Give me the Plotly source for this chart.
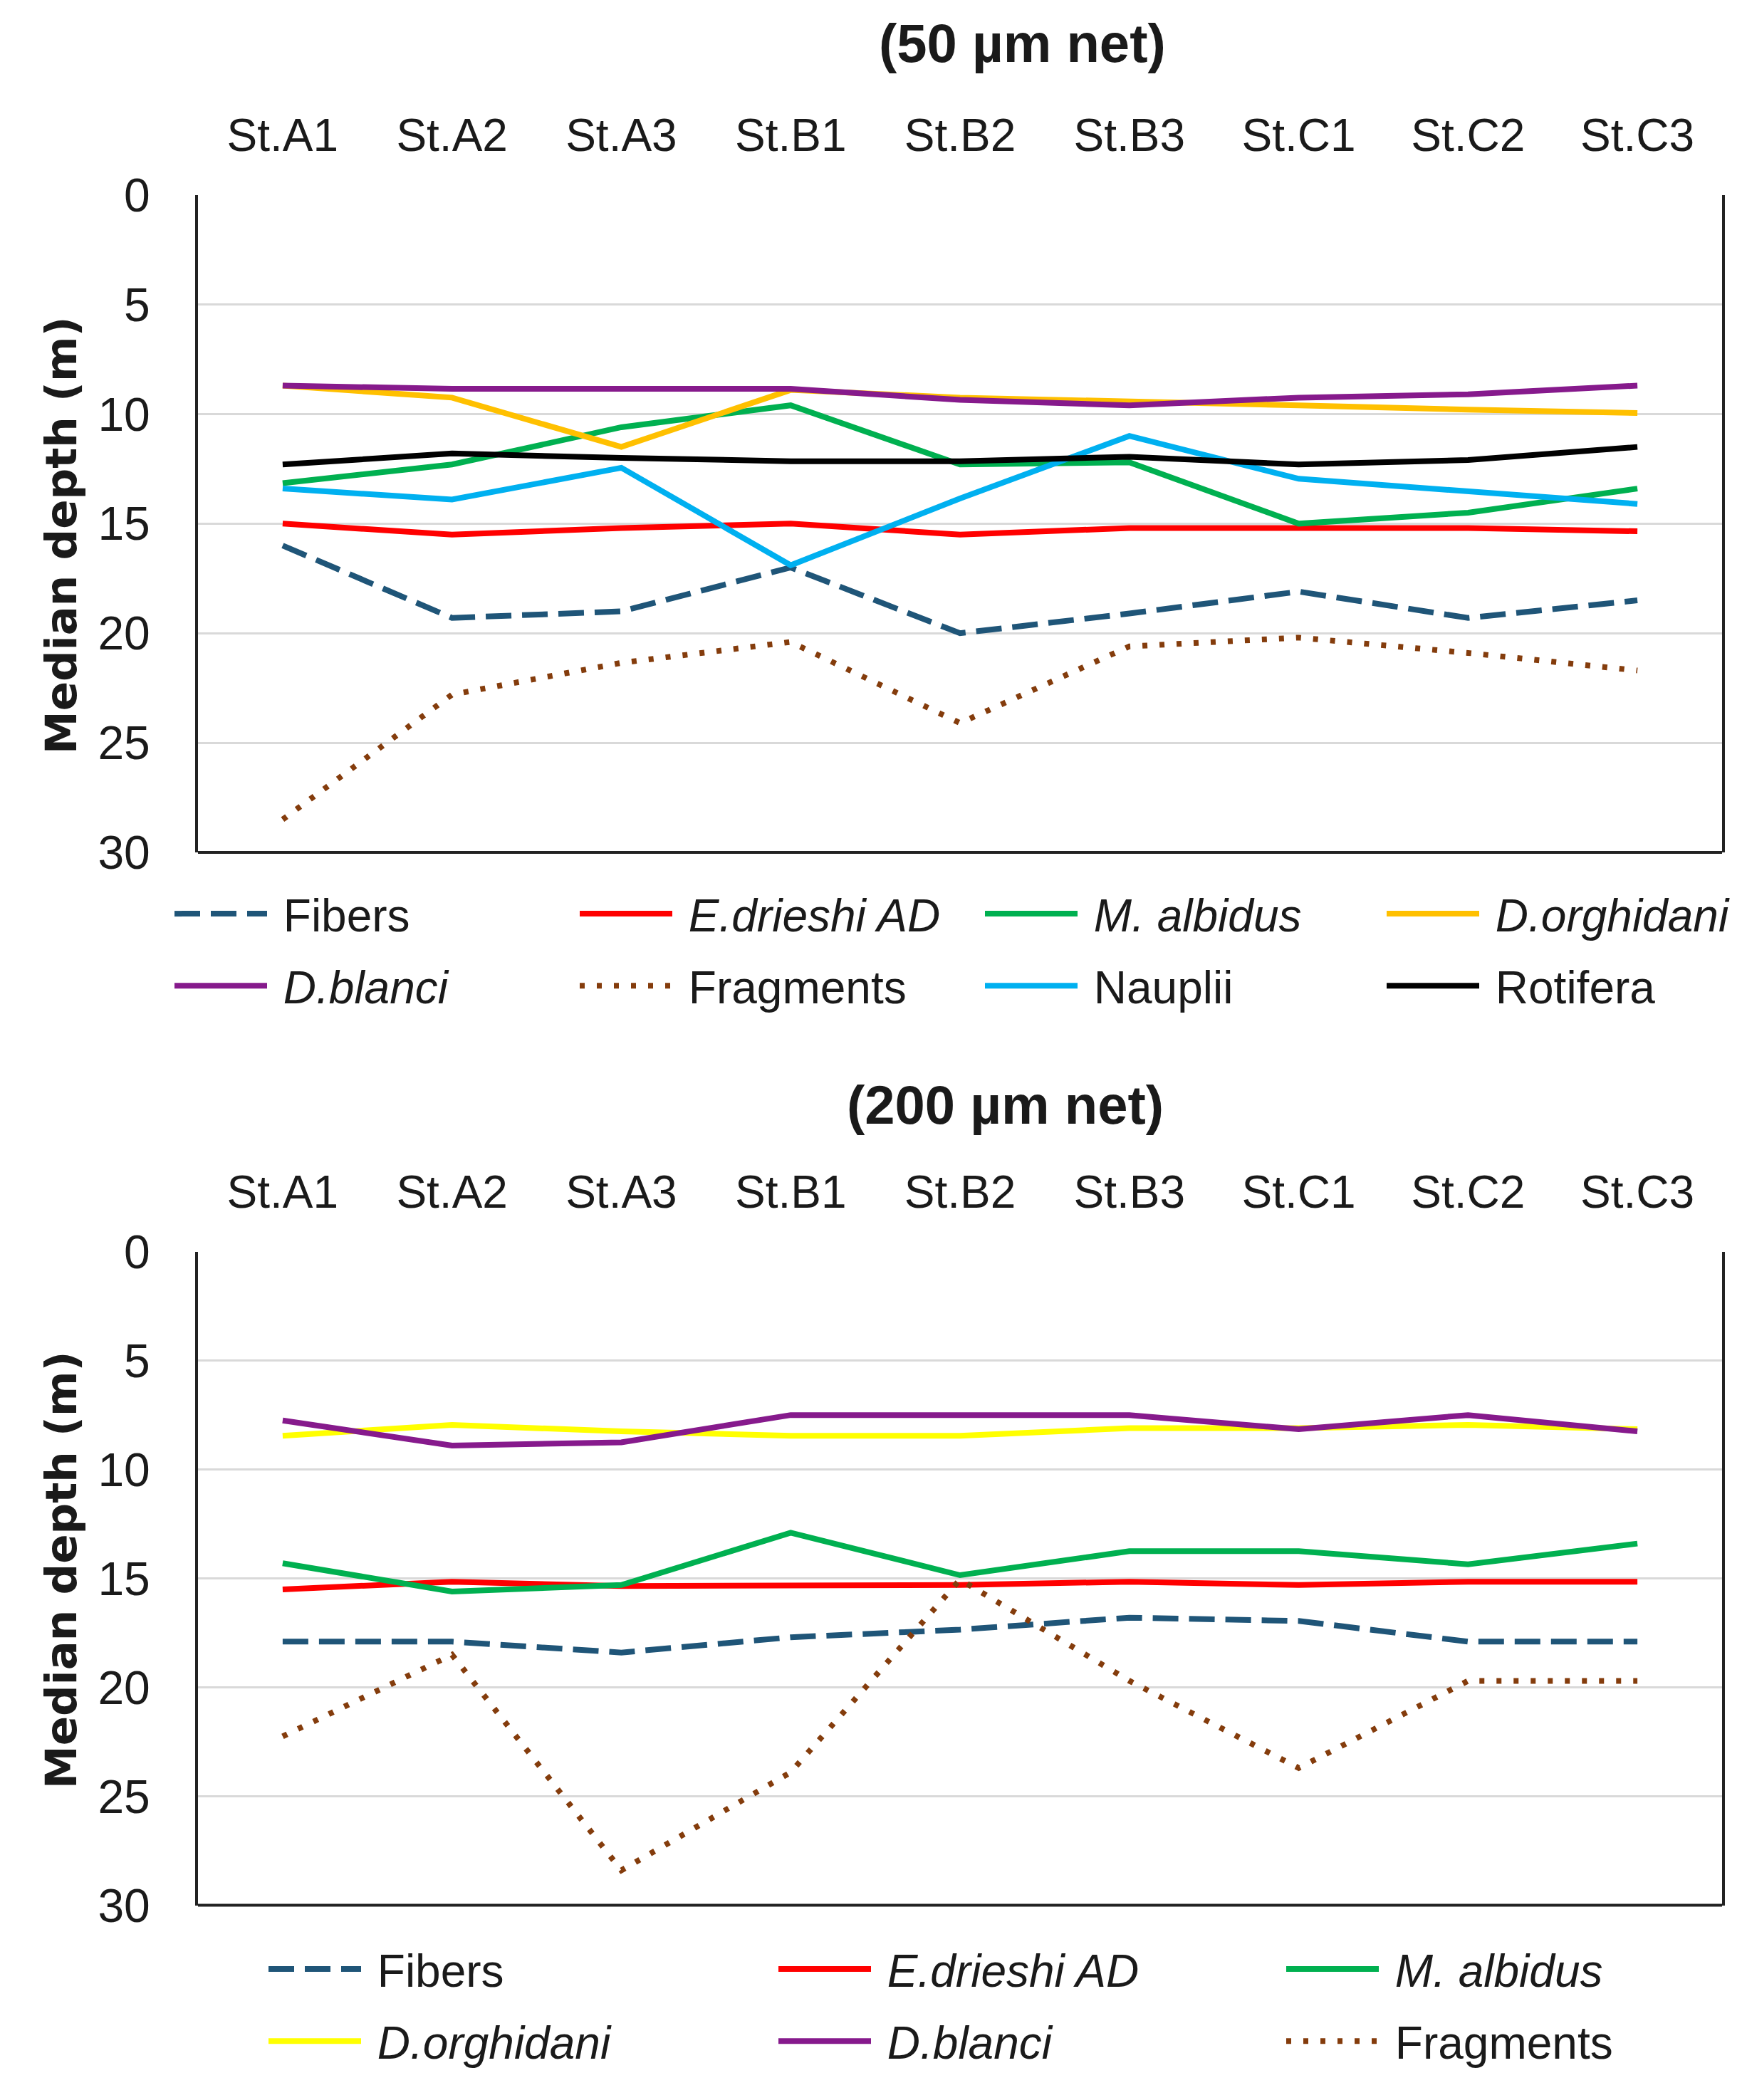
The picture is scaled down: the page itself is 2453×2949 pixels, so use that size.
import plotly.graph_objects as go

stations = ["St.A1", "St.A2", "St.A3", "St.B1", "St.B2", "St.B3", "St.C1", "St.C2", "St.C3"]

# 50 µm net (median depth, m)
fibers_50 = [16.0, 19.3, 19.0, 17.0, 20.0, 19.1, 18.1, 19.3, 18.5]
edrieshi_50 = [15.0, 15.5, 15.2, 15.0, 15.5, 15.2, 15.2, 15.2, 15.35]
malbidus_50 = [13.15, 12.3, 10.6, 9.6, 12.3, 12.2, 15.0, 14.5, 13.4]
dorghidani_50 = [8.7, 9.25, 11.5, 8.9, 9.25, 9.4, 9.6, 9.8, 9.95]
dblanci_50 = [8.7, 8.85, 8.85, 8.85, 9.35, 9.6, 9.25, 9.1, 8.7]
fragments_50 = [28.5, 22.8, 21.35, 20.4, 24.1, 20.6, 20.2, 20.9, 21.7]
nauplii_50 = [13.4, 13.9, 12.45, 16.9, 13.85, 11.0, 12.95, 13.55, 14.1]
rotifera_50 = [12.3, 11.8, 12.0, 12.15, 12.15, 11.95, 12.3, 12.1, 11.5]

# 200 µm net (median depth, m)
fibers_200 = [17.9, 17.9, 18.4, 17.7, 17.35, 16.8, 16.95, 17.9, 17.9]
edrieshi_200 = [15.5, 15.15, 15.35, 15.35, 15.3, 15.15, 15.3, 15.15, 15.15]
malbidus_200 = [14.3, 15.6, 15.3, 12.9, 14.85, 13.75, 13.75, 14.35, 13.4]
dorghidani_200 = [8.45, 7.95, 8.25, 8.45, 8.45, 8.1, 8.1, 7.95, 8.15]
dblanci_200 = [7.75, 8.9, 8.75, 7.5, 7.5, 7.5, 8.15, 7.5, 8.25]
fragments_200 = [22.25, 18.5, 28.4, 23.9, 15.05, 19.7, 23.7, 19.7, 19.7]

y_ticks = [0, 5, 10, 15, 20, 25, 30]

W, H = 2453, 2949
FONT = "Liberation Sans, Arial, sans-serif"
LW = 8
DASH = "36px,15px"
DOT = "7px,17px"

styles = {
    "Fibers": dict(color="#1F5578", dash=DASH, label="Fibers"),
    "E.drieshi AD": dict(color="#FF0000", dash="solid", label="<i>E.drieshi AD</i>"),
    "M. albidus": dict(color="#00B050", dash="solid", label="<i>M. albidus</i>"),
    "D.orghidani": dict(color="#FFC000", dash="solid", label="<i>D.orghidani</i>"),
    "D.blanci": dict(color="#861A8C", dash="solid", label="<i>D.blanci</i>"),
    "Fragments": dict(color="#843C0C", dash=DOT, label="Fragments"),
    "Nauplii": dict(color="#00B0F0", dash="solid", label="Nauplii"),
    "Rotifera": dict(color="#000000", dash="solid", label="Rotifera"),
}

# legend column assignment (one vertical legend per column)
top_series = [
    ("Fibers", fibers_50, "legend"),
    ("E.drieshi AD", edrieshi_50, "legend2"),
    ("M. albidus", malbidus_50, "legend3"),
    ("D.orghidani", dorghidani_50, "legend4"),
    ("D.blanci", dblanci_50, "legend"),
    ("Fragments", fragments_50, "legend2"),
    ("Nauplii", nauplii_50, "legend3"),
    ("Rotifera", rotifera_50, "legend4"),
]
bottom_series = [
    ("Fibers", fibers_200, "legend5"),
    ("E.drieshi AD", edrieshi_200, "legend6"),
    ("M. albidus", malbidus_200, "legend7"),
    ("D.orghidani", dorghidani_200, "legend5"),
    ("D.blanci", dblanci_200, "legend6"),
    ("Fragments", fragments_200, "legend7"),
]

fig = go.Figure()
for i, (name, vals, leg) in enumerate(top_series):
    st = styles[name]
    fig.add_trace(go.Scatter(x=stations, y=vals, name="&nbsp;" + st["label"], mode="lines",
                             line=dict(color=st["color"], width=LW, dash=st["dash"]),
                             xaxis="x", yaxis="y", legend=leg, legendgroup=f"t{i}"))
for i, (name, vals, leg) in enumerate(bottom_series):
    st = styles[name]
    c = "#FFFF00" if name == "D.orghidani" else st["color"]
    fig.add_trace(go.Scatter(x=stations, y=vals, name="&nbsp;" + st["label"], mode="lines",
                             line=dict(color=c, width=LW, dash=st["dash"]),
                             xaxis="x2", yaxis="y2", legend=leg, legendgroup=f"b{i}"))

xdom = [278 / W, 2418 / W]
top_dom = [1 - 1197 / H, 1 - 273.7 / H]
bot_dom = [1 - 2675.5 / H, 1 - 1757.7 / H]

xcommon = dict(type="category", categoryorder="array", categoryarray=stations,
               range=[-0.5, 8.5], side="top", showline=False, showgrid=False,
               ticks="", tickfont=dict(family=FONT, size=64, color="#1a1a1a"),
               ticklabelstandoff=48, domain=xdom, zeroline=False)
ycommon = dict(range=[30, 0], tickvals=y_ticks, showgrid=True, gridcolor="#D9D9D9",
               gridwidth=3, showline=True, mirror=True, linecolor="#222222", linewidth=4,
               ticks="", tickfont=dict(family=FONT, size=66, color="#1a1a1a"),
               ticklabelstandoff=50, zeroline=False)

fig.update_layout(
    width=W, height=H, margin=dict(l=0, r=0, t=0, b=0, autoexpand=False),
    paper_bgcolor="white", plot_bgcolor="white", showlegend=True,
    xaxis=dict(**xcommon, anchor="y"),
    yaxis=dict(**ycommon, domain=top_dom, anchor="x"),
    xaxis2=dict(**xcommon, anchor="y2"),
    yaxis2=dict(**ycommon, domain=bot_dom, anchor="x2"),
)

leg_common = dict(orientation="v", xanchor="left", yanchor="top",
                  font=dict(family=FONT, size=64, color="#1a1a1a"),
                  itemwidth=130, bgcolor="rgba(0,0,0,0)",
                  traceorder="grouped", tracegroupgap=15)
top_leg_y = 1 - 1235 / H
bot_leg_y = 1 - 2717 / H
fig.update_layout(
    legend=dict(**leg_common, x=240 / W, y=top_leg_y),
    legend2=dict(**leg_common, x=809 / W, y=top_leg_y),
    legend3=dict(**leg_common, x=1378 / W, y=top_leg_y),
    legend4=dict(**leg_common, x=1942 / W, y=top_leg_y),
    legend5=dict(**leg_common, x=372 / W, y=bot_leg_y),
    legend6=dict(**leg_common, x=1088 / W, y=bot_leg_y),
    legend7=dict(**leg_common, x=1801 / W, y=bot_leg_y),
)

# bottom frame lines of each panel
for xr, yr in (("x domain", "y domain"), ("x2 domain", "y2 domain")):
    fig.add_shape(type="line", xref=xr, yref=yr, x0=0, x1=1, y0=0, y1=0,
                  line=dict(color="#222222", width=4), layer="above")

# titles
fig.add_annotation(text="<b>(50 µm net)</b>", xref="paper", yref="paper",
                   x=1435 / W, y=1 - 60 / H, showarrow=False, xanchor="center", yanchor="middle",
                   font=dict(family=FONT, size=76, color="#1a1a1a"))
fig.add_annotation(text="<b>(200 µm net)</b>", xref="paper", yref="paper",
                   x=1411 / W, y=1 - 1552 / H, showarrow=False, xanchor="center", yanchor="middle",
                   font=dict(family=FONT, size=76, color="#1a1a1a"))
for yc in (752, 2205):
    fig.add_annotation(text="<b>Median depth (m)</b>", xref="paper", yref="paper",
                       x=85 / W, y=1 - yc / H, showarrow=False, textangle=-90,
                       xanchor="center", yanchor="middle",
                       font=dict(family="DejaVu Sans, Verdana, sans-serif", size=61, color="#1a1a1a"))

fig.write_html("out.html")
